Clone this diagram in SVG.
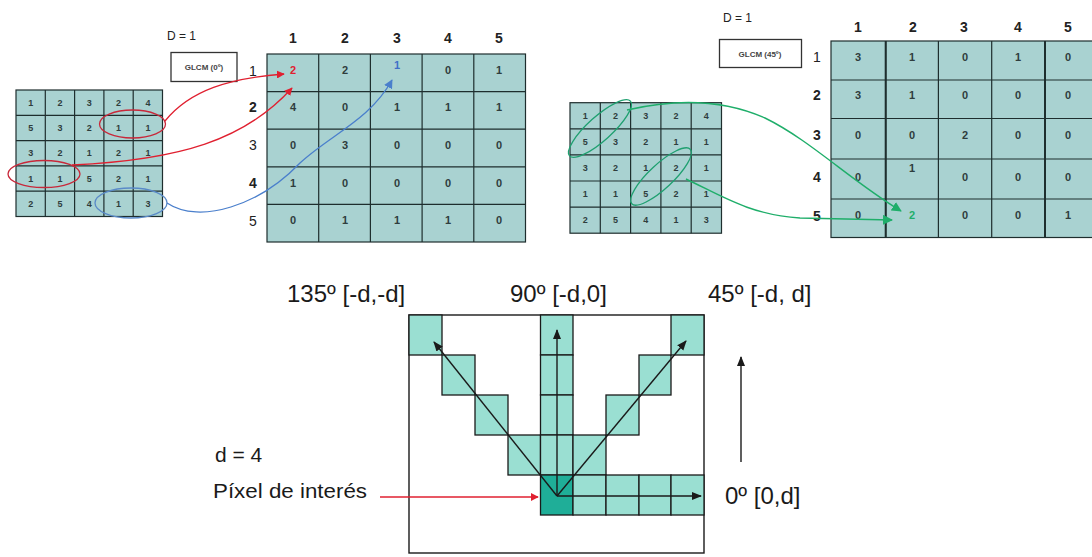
<svg xmlns="http://www.w3.org/2000/svg" width="1092" height="557" viewBox="0 0 1092 557">
<style>
.bg{fill:#ffffff}
.cell{fill:#a9d2d1;stroke:#1e2e2e;stroke-width:1.2}
.bcell{fill:#9adfd2;stroke:#1a1a1a;stroke-width:1.3}
.dcell{fill:#1fae98;stroke:#1a1a1a;stroke-width:1.3}
.sv{font-family:"Liberation Sans",Arial,sans-serif;font-size:9px;font-weight:bold;fill:#2f3d3d;text-anchor:middle;dominant-baseline:central}
.gv{font-family:"Liberation Sans",Arial,sans-serif;font-size:11px;font-weight:bold;fill:#2f3d3d;text-anchor:middle;dominant-baseline:central}
.hd{font-family:"Liberation Sans",Arial,sans-serif;font-size:14px;font-weight:bold;fill:#222;text-anchor:middle;dominant-baseline:central}
.rl{font-family:"Liberation Sans",Arial,sans-serif;font-size:14px;fill:#222;text-anchor:middle;dominant-baseline:central}
.dl{font-family:"Liberation Sans",Arial,sans-serif;font-size:12px;fill:#222}
.box{fill:#fff;stroke:#333;stroke-width:1.3}
.bt{font-family:"Liberation Sans",Arial,sans-serif;font-size:8px;font-weight:bold;fill:#444;text-anchor:middle}
.lb{font-family:"Liberation Sans",Arial,sans-serif;font-size:24px;fill:#1a1a1a}
.lb2{font-family:"Liberation Sans",Arial,sans-serif;font-size:21px;fill:#1a1a1a}
.ln{fill:none;stroke:#1a1a1a;stroke-width:1.4}
</style>
<defs>
<marker id="ar" viewBox="0 0 10 10" refX="9" refY="5" markerWidth="8" markerHeight="8" orient="auto" markerUnits="userSpaceOnUse"><path d="M0,0 L10,5 L0,10 z" fill="#e02030"/></marker>
<marker id="ab" viewBox="0 0 10 10" refX="9" refY="5" markerWidth="9" markerHeight="9" orient="auto" markerUnits="userSpaceOnUse"><path d="M0,0 L10,5 L0,10 z" fill="#4a7fcc"/></marker>
<marker id="ag" viewBox="0 0 10 10" refX="9" refY="5" markerWidth="10" markerHeight="10" orient="auto" markerUnits="userSpaceOnUse"><path d="M0,0 L10,5 L0,10 z" fill="#1fae6a"/></marker>
<marker id="ak" viewBox="0 0 10 10" refX="9" refY="5" markerWidth="10" markerHeight="10" orient="auto" markerUnits="userSpaceOnUse"><path d="M0,1 L10,5 L0,9 z" fill="#1a1a1a"/></marker>
</defs>
<rect class="bg" x="0" y="0" width="1092" height="557"/>

<!-- Left image matrix -->
<g id="img-left">
<rect class="cell" x="16" y="90" width="146.5" height="126.5"/>
<path d="M45.3,90V216.5M74.6,90V216.5M103.9,90V216.5M133.2,90V216.5M16,115.3H162.5M16,140.6H162.5M16,165.9H162.5M16,191.2H162.5" stroke="#1e2e2e" stroke-width="1.2" fill="none"/>
<g class="sv">
<text x="30.7" y="102.7">1</text><text x="60" y="102.7">2</text><text x="89.3" y="102.7">3</text><text x="118.6" y="102.7">2</text><text x="147.9" y="102.7">4</text>
<text x="30.7" y="128">5</text><text x="60" y="128">3</text><text x="89.3" y="128">2</text><text x="118.6" y="128">1</text><text x="147.9" y="128">1</text>
<text x="30.7" y="153.3">3</text><text x="60" y="153.3">2</text><text x="89.3" y="153.3">1</text><text x="118.6" y="153.3">2</text><text x="147.9" y="153.3">1</text>
<text x="30.7" y="178.6">1</text><text x="60" y="178.6">1</text><text x="89.3" y="178.6">5</text><text x="118.6" y="178.6">2</text><text x="147.9" y="178.6">1</text>
<text x="30.7" y="203.9">2</text><text x="60" y="203.9">5</text><text x="89.3" y="203.9">4</text><text x="118.6" y="203.9">1</text><text x="147.9" y="203.9">3</text>
</g>
<ellipse cx="132.5" cy="124" rx="33" ry="14" fill="none" stroke="#c8283a" stroke-width="1.3"/>
<ellipse cx="44" cy="174" rx="36" ry="13.5" fill="none" stroke="#c8283a" stroke-width="1.3"/>
<ellipse cx="131" cy="203" rx="36" ry="15" fill="none" stroke="#5a8ac8" stroke-width="1.3"/>
</g>

<!-- Left GLCM label -->
<g id="label-left">
<text class="dl" x="167" y="40">D = 1</text>
<rect class="box" x="171" y="52.5" width="66" height="29"/>
<text class="bt" x="204" y="70">GLCM (0º)</text>
</g>

<!-- Left GLCM table -->
<g id="glcm-left">
<rect class="cell" x="267" y="54" width="258.5" height="188"/>
<path d="M318.7,54V242M370.4,54V242M422.1,54V242M473.8,54V242M267,91.6H525.5M267,129.2H525.5M267,166.8H525.5M267,204.4H525.5" stroke="#1e2e2e" stroke-width="1.2" fill="none"/>
<g class="hd"><text x="293" y="38">1</text><text x="345" y="38">2</text><text x="397" y="38">3</text><text x="448" y="38">4</text><text x="499" y="38">5</text></g>
<g class="rl"><text x="253" y="71">1</text><text x="253" y="107" font-weight="bold">2</text><text x="253" y="145">3</text><text x="253" y="183" font-weight="bold">4</text><text x="253" y="221">5</text></g>
<g class="gv">
<text x="293" y="70" fill="#e02030">2</text><text x="345" y="70">2</text><text x="397" y="65" fill="#3f6fc8">1</text><text x="448" y="70">0</text><text x="499" y="70">1</text>
<text x="293" y="107">4</text><text x="345" y="107">0</text><text x="397" y="107">1</text><text x="448" y="107">1</text><text x="499" y="107">1</text>
<text x="293" y="145">0</text><text x="345" y="145">3</text><text x="397" y="145">0</text><text x="448" y="145">0</text><text x="499" y="145">0</text>
<text x="293" y="183">1</text><text x="345" y="183">0</text><text x="397" y="183">0</text><text x="448" y="183">0</text><text x="499" y="183">0</text>
<text x="293" y="220">0</text><text x="345" y="220">1</text><text x="397" y="220">1</text><text x="448" y="220">1</text><text x="499" y="220">0</text>
</g>
</g>

<!-- Right image matrix -->
<g id="img-right">
<rect class="cell" x="570" y="102.7" width="151.5" height="130.5"/>
<path d="M600.3,102.7V233.2M630.6,102.7V233.2M660.9,102.7V233.2M691.2,102.7V233.2M570,128.8H721.5M570,154.9H721.5M570,181H721.5M570,207.1H721.5" stroke="#1e2e2e" stroke-width="1.2" fill="none"/>
<g class="sv">
<text x="585.2" y="115.8">1</text><text x="615.5" y="115.8">2</text><text x="645.8" y="115.8">3</text><text x="676" y="115.8">2</text><text x="706.3" y="115.8">4</text>
<text x="585.2" y="141.9">5</text><text x="615.5" y="141.9">3</text><text x="645.8" y="141.9">2</text><text x="676" y="141.9">1</text><text x="706.3" y="141.9">1</text>
<text x="585.2" y="168">3</text><text x="615.5" y="168">2</text><text x="645.8" y="168">1</text><text x="676" y="168">2</text><text x="706.3" y="168">1</text>
<text x="585.2" y="194">1</text><text x="615.5" y="194">1</text><text x="645.8" y="194">5</text><text x="676" y="194">2</text><text x="706.3" y="194">1</text>
<text x="585.2" y="220">2</text><text x="615.5" y="220">5</text><text x="645.8" y="220">4</text><text x="676" y="220">1</text><text x="706.3" y="220">3</text>
</g>
<ellipse cx="600" cy="128.5" rx="41" ry="12" transform="rotate(-42 600 128.5)" fill="none" stroke="#1fa070" stroke-width="1.3"/>
<ellipse cx="661" cy="176.5" rx="40" ry="12" transform="rotate(-43 661 176.5)" fill="none" stroke="#1fa070" stroke-width="1.3"/>
</g>

<!-- Right GLCM label -->
<g id="label-right">
<text class="dl" x="723" y="22">D = 1</text>
<rect class="box" x="719.5" y="39.5" width="82" height="28"/>
<text class="bt" x="760" y="57">GLCM (45º)</text>
</g>

<!-- Right GLCM table -->
<g id="glcm-right">
<rect class="cell" x="831" y="41" width="262" height="196.5"/>
<path d="M885.7,41V237.5M938.4,41V237.5M991.7,41V237.5M1045,41V237.5M831,80H1093M831,118.5H1093M831,159H1093M831,199H1093" stroke="#1e2e2e" stroke-width="1.2" fill="none"/>
<path d="M885.7,41V237.5M1045,41V237.5" stroke="#1e2e2e" stroke-width="2" fill="none"/>
<g class="hd"><text x="858" y="27">1</text><text x="913" y="27">2</text><text x="964" y="27">3</text><text x="1018" y="27">4</text><text x="1068" y="27">5</text></g>
<g class="rl"><text x="817" y="57">1</text><text x="817" y="95" font-weight="bold">2</text><text x="817" y="135" font-weight="bold">3</text><text x="817" y="177" font-weight="bold">4</text><text x="817" y="216" font-weight="bold">5</text></g>
<g class="gv">
<text x="858" y="57">3</text><text x="912" y="57">1</text><text x="965" y="57">0</text><text x="1018" y="57">1</text><text x="1068" y="57">0</text>
<text x="858" y="95">3</text><text x="912" y="95">1</text><text x="965" y="95">0</text><text x="1018" y="95">0</text><text x="1068" y="95">0</text>
<text x="858" y="135">0</text><text x="912" y="135">0</text><text x="965" y="135">2</text><text x="1018" y="135">0</text><text x="1068" y="135">0</text>
<text x="858" y="177">0</text><text x="912" y="168">1</text><text x="965" y="177">0</text><text x="1018" y="177">0</text><text x="1068" y="177">0</text>
<text x="858" y="215">0</text><text x="912" y="215" fill="#1fae6a">2</text><text x="965" y="215">0</text><text x="1018" y="215">0</text><text x="1068" y="215">1</text>
</g>
</g>

<!-- Bottom direction diagram -->
<g id="directions">
<rect x="409" y="315" width="295" height="238" fill="#fff" stroke="#1a1a1a" stroke-width="1.4"/>
<rect class="bcell" x="409" y="315" width="33" height="40"/>
<rect class="bcell" x="442" y="355" width="33" height="40"/>
<rect class="bcell" x="475" y="395" width="33" height="40"/>
<rect class="bcell" x="508" y="435" width="32.5" height="40"/>
<rect class="bcell" x="540.5" y="315" width="32.5" height="40"/>
<rect class="bcell" x="540.5" y="355" width="32.5" height="40"/>
<rect class="bcell" x="540.5" y="395" width="32.5" height="40"/>
<rect class="bcell" x="540.5" y="435" width="32.5" height="40"/>
<rect class="bcell" x="573" y="435" width="33" height="40"/>
<rect class="bcell" x="606" y="395" width="33" height="40"/>
<rect class="bcell" x="639" y="355" width="32" height="40"/>
<rect class="bcell" x="671" y="315" width="33" height="40"/>
<rect class="dcell" x="540.5" y="475" width="32.5" height="40"/>
<rect class="bcell" x="573" y="475" width="33" height="40"/>
<rect class="bcell" x="606" y="475" width="33" height="40"/>
<rect class="bcell" x="639" y="475" width="32" height="40"/>
<rect class="bcell" x="671" y="475" width="33" height="40"/>
<text class="lb" x="287" y="302">135º [-d,-d]</text>
<text class="lb" x="510" y="302">90º [-d,0]</text>
<text class="lb" x="708" y="302">45º [-d, d]</text>
<text class="lb" x="725" y="504">0º [0,d]</text>
<text class="lb2" x="215" y="462">d = 4</text>
<text class="lb2" x="213" y="498" textLength="154" lengthAdjust="spacingAndGlyphs">Píxel de interés</text>
</g>

<!-- Connectors -->
<g id="connectors">
<path d="M165,121 C190,90 230,78 284,74" fill="none" stroke="#e02030" stroke-width="1.3" marker-end="url(#ar)"/>
<path d="M72,165 C180,160 245,140 292,88" fill="none" stroke="#e02030" stroke-width="1.3" marker-end="url(#ar)"/>
<path d="M167,203 C200,225 260,205 300,163 C330,135 370,120 392,80" fill="none" stroke="#4a7fcc" stroke-width="1.3" marker-end="url(#ab)"/>
<path d="M627,110 C670,100 720,98 765,118 C810,140 850,180 901,211" fill="none" stroke="#1fae6a" stroke-width="1.4" marker-end="url(#ag)"/>
<path d="M686,179 C720,195 750,215 800,218 L892,220" fill="none" stroke="#1fae6a" stroke-width="1.4" marker-end="url(#ag)"/>
<path class="ln" d="M557,496 L434,342" marker-end="url(#ak)"/>
<path class="ln" d="M557,496 L557,330" marker-end="url(#ak)"/>
<path class="ln" d="M557,496 L686,341" marker-end="url(#ak)"/>
<path class="ln" d="M557,496 L701,496" marker-end="url(#ak)"/>
<path class="ln" d="M741,462 L741,357" marker-end="url(#ak)"/>
<path d="M380,497 L538,497" fill="none" stroke="#e02030" stroke-width="1.3" marker-end="url(#ar)"/>
</g>
</svg>
